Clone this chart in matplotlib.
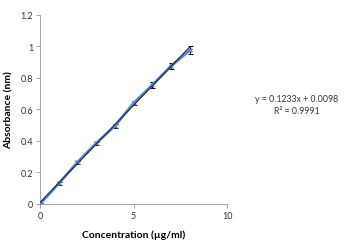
import matplotlib
matplotlib.use("Agg")
import matplotlib.pyplot as plt
import numpy as np

conc = [0, 1, 2, 3, 4, 5, 6, 7, 8]
absorbance = [0.0, 0.13, 0.265, 0.385, 0.495, 0.64, 0.755, 0.875, 0.975]
errors = [0.005, 0.008, 0.01, 0.01, 0.012, 0.015, 0.018, 0.02, 0.025]
slope, intercept = 0.1233, 0.0098

plt.rcParams["font.family"] = ["Lato", "DejaVu Sans"]

fig = plt.figure(figsize=(3.61, 2.53), dpi=100)
ax = fig.add_axes([0.111, 0.19, 0.518, 0.747])

ax.errorbar(conc, absorbance, yerr=errors, fmt="none", ecolor="black",
            elinewidth=0.7, capsize=1.8, capthick=0.7, zorder=2)
ax.plot(conc, absorbance, color="#5b8ac6", lw=2.0, marker="x", ms=3.5,
        mew=1.0, zorder=3)
xfit = np.array([conc[0], conc[-1]])
ax.plot(xfit, slope * xfit + intercept, color="#1f2a44", lw=0.8, zorder=4)

ax.set_xlim(0, 10)
ax.set_ylim(0, 1.2)
ax.set_xticks([0, 5, 10])
ax.set_yticks([0, 0.2, 0.4, 0.6, 0.8, 1, 1.2])
ax.set_yticklabels(["0", "0.2", "0.4", "0.6", "0.8", "1", "1.2"])
for s in ["top", "right"]:
    ax.spines[s].set_visible(False)
for s in ["left", "bottom"]:
    ax.spines[s].set_color("#a6a6a6")
    ax.spines[s].set_linewidth(0.7)
ax.tick_params(direction="out", length=3, width=0.7, color="#a6a6a6",
               labelsize=6.5, labelcolor="#333333", pad=2)

ax.set_xlabel("Concentration (µg/ml)", fontsize=7.5, fontweight="bold", labelpad=7)
ax.set_ylabel("Absorbance (nm)", fontsize=7.5, fontweight="bold", labelpad=5)

fig.text(0.822, 0.583, "y = 0.1233x + 0.0098\nR² = 0.9991", ha="center",
         va="center", fontsize=6.3, color="#333333", linespacing=1.5)

fig.savefig("out.png", dpi=100)
